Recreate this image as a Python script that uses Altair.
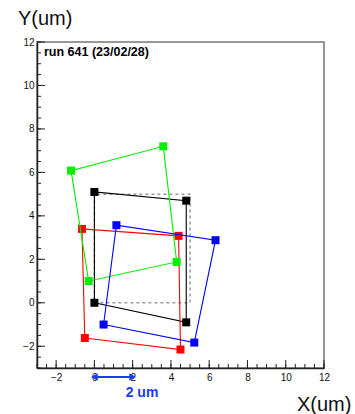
import altair as alt
import pandas as pd

# ---- data ----
groups = ["ref", "black", "red", "green", "blue"]
ref_x = [0, 5, 5, 0, 0]
ref_y = [0, 0, 5, 5, 0]
black_x = [0.0, 4.8, 4.8, 0.0]
black_y = [0.0, -0.9, 4.7, 5.1]
red_x = [-0.5, 4.5, 4.4, -0.65]
red_y = [-1.62, -2.15, 3.08, 3.4]
green_x = [-0.3, 4.3, 3.6, -1.22]
green_y = [1.0, 1.88, 7.2, 6.08]
blue_x = [0.48, 5.22, 6.33, 1.15]
blue_y = [-1.0, -1.83, 2.88, 3.57]

x_major = [-2, 0, 2, 4, 6, 8, 10, 12]
y_major = [-2, 0, 2, 4, 6, 8, 10, 12]
minor_ticks = [-3, -2.5, -2, -1.5, -1, -0.5, 0, 0.5, 1, 1.5, 2, 2.5, 3, 3.5, 4, 4.5, 5,
               5.5, 6, 6.5, 7, 7.5, 8, 8.5, 9, 9.5, 10, 10.5, 11, 11.5, 12]
scale_bar = [0, 2]

W, H = 287, 326
FONT = "Liberation Sans"

xs = alt.Scale(domain=[-3, 12], nice=False, zero=False)
ys = alt.Scale(domain=[-3, 12], nice=False, zero=False)

def poly(xv, yv, name, close=True):
    xx = list(xv) + ([xv[0]] if close else [])
    yy = list(yv) + ([yv[0]] if close else [])
    return pd.DataFrame({"x": xx, "y": yy, "i": range(len(xx)), "g": name})

colors = {"black": "#000000", "red": "#ff0000", "green": "#00ee00", "blue": "#0000ff"}

xaxis = alt.Axis(values=x_major, ticks=False, grid=False, domain=True, domainColor="#222",
                 domainWidth=1.5, labelFontSize=10, labelFont=FONT, labelColor="#111",
                 labelPadding=4, title=None, labelFlush=False)
yaxis = alt.Axis(values=y_major, ticks=False, grid=False, domain=True, domainColor="#222",
                 domainWidth=1.5, labelFontSize=10, labelFont=FONT, labelColor="#111",
                 labelPadding=3, title=None, labelFlush=False)

base_ref = alt.Chart(poly(ref_x, ref_y, "ref", close=False)).mark_line(
    color="#9a9a9a", strokeDash=[3, 3], strokeWidth=1.5
).encode(
    x=alt.X("x:Q", scale=xs, axis=xaxis),
    y=alt.Y("y:Q", scale=ys, axis=yaxis),
    order="i:Q",
)

layers = [base_ref]
for name, xv, yv in [("black", black_x, black_y), ("red", red_x, red_y),
                     ("green", green_x, green_y), ("blue", blue_x, blue_y)]:
    df = poly(xv, yv, name)
    c = colors[name]
    layers.append(alt.Chart(df).mark_line(color=c, strokeWidth=1.1).encode(
        x=alt.X("x:Q", scale=xs), y=alt.Y("y:Q", scale=ys), order="i:Q"))
    layers.append(alt.Chart(poly(xv, yv, name, close=False)).mark_point(
        shape="square", filled=True, size=64, color=c, opacity=1).encode(
        x=alt.X("x:Q", scale=xs), y=alt.Y("y:Q", scale=ys)))

# ticks (inside the frame, ROOT style)
xmaj = pd.DataFrame({"v": x_major})
ymaj = pd.DataFrame({"v": y_major})
mino = pd.DataFrame({"v": minor_ticks})
tick_col = "#222"
layers += [
    alt.Chart(mino).mark_rule(color=tick_col, strokeWidth=1).encode(
        x=alt.X("v:Q", scale=xs), y=alt.value(H), y2=alt.value(H - 4)),
    alt.Chart(xmaj).mark_rule(color=tick_col, strokeWidth=1).encode(
        x=alt.X("v:Q", scale=xs), y=alt.value(H), y2=alt.value(H - 8)),
    alt.Chart(mino).mark_rule(color=tick_col, strokeWidth=1).encode(
        y=alt.Y("v:Q", scale=ys), x=alt.value(0), x2=alt.value(4)),
    alt.Chart(ymaj).mark_rule(color=tick_col, strokeWidth=1).encode(
        y=alt.Y("v:Q", scale=ys), x=alt.value(0), x2=alt.value(8)),
]

# scale bar arrow
sb = pd.DataFrame({"x": [scale_bar[0]], "x2": [scale_bar[1]]})
blue_txt = "#1a3cf5"
layers += [
    alt.Chart(sb).mark_rule(color=blue_txt, strokeWidth=2).encode(
        x=alt.X("x:Q", scale=xs), x2="x2:Q", y=alt.value(H + 9)),
    alt.Chart(pd.DataFrame({"x": [scale_bar[0]]})).mark_point(
        shape="triangle-left", filled=True, size=60, color=blue_txt, opacity=1).encode(
        x=alt.X("x:Q", scale=xs), y=alt.value(H + 9)),
    alt.Chart(pd.DataFrame({"x": [scale_bar[1]]})).mark_point(
        shape="triangle-right", filled=True, size=60, color=blue_txt, opacity=1).encode(
        x=alt.X("x:Q", scale=xs), y=alt.value(H + 9)),
    alt.Chart(pd.DataFrame({"t": ["2 um"]})).mark_text(
        font=FONT, fontSize=14, fontWeight="bold", color=blue_txt, align="center",
        baseline="middle").encode(text="t:N", x=alt.value(105), y=alt.value(H + 25)),
]

# texts
layers += [
    alt.Chart(pd.DataFrame({"t": ["run 641 (23/02/28)"]})).mark_text(
        font=FONT, fontSize=12.5, fontWeight="bold", color="#000", align="left",
        baseline="middle").encode(text="t:N", x=alt.value(7), y=alt.value(10)),
    alt.Chart(pd.DataFrame({"t": ["Y(um)"]})).mark_text(
        font=FONT, fontSize=20, color="#111", align="left",
        baseline="alphabetic").encode(text="t:N", x=alt.value(-19), y=alt.value(-17)),
    alt.Chart(pd.DataFrame({"t": ["X(um)"]})).mark_text(
        font=FONT, fontSize=20, color="#111", align="left",
        baseline="alphabetic").encode(text="t:N", x=alt.value(260), y=alt.value(H + 43)),
]

chart = alt.layer(*layers).properties(
    width=W, height=H,
    autosize=alt.AutoSizeParams(type="none"),
    padding={"left": 37, "top": 42, "right": 31, "bottom": 46},
    background="white",
).configure_view(stroke="#777", strokeWidth=1.5)

chart.save("out.html", embed_options={"renderer": "svg", "actions": False})
